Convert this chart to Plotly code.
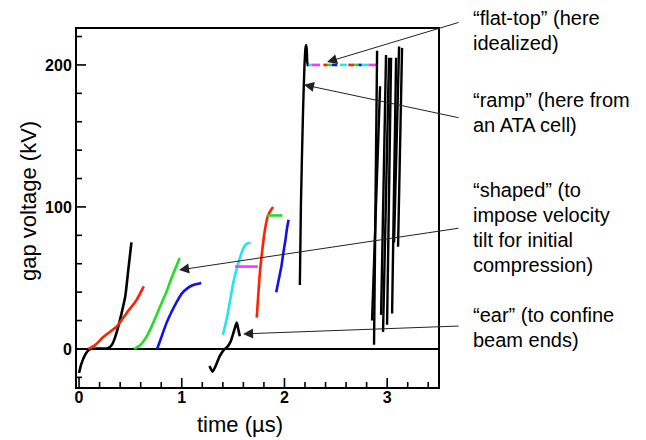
import plotly.graph_objects as go

# ---- data (time in µs, gap voltage in kV) ----
black1_t = [0.0, 0.02, 0.06, 0.09, 0.11, 0.2, 0.28, 0.32, 0.35, 0.39, 0.42, 0.45, 0.48, 0.51]
black1_v = [-17, -11, -4, -1, 0, 0.3, 0.5, 3, 8, 18, 27, 37, 56, 75]

red1_t = [0.09, 0.16, 0.23, 0.30, 0.37, 0.46, 0.56, 0.63]
red1_v = [0, 3, 8, 12, 16, 25, 34.5, 44]

green1_t = [0.535, 0.60, 0.66, 0.72, 0.79, 0.85, 0.89, 0.94, 0.98]
green1_v = [0, 3, 9, 18, 30, 40, 48, 57, 64]

blue1_t = [0.76, 0.80, 0.85, 0.90, 0.95, 1.00, 1.06, 1.11, 1.19]
blue1_v = [0, 8, 18, 26, 33, 39, 43, 45, 46.5]

ear_t = [1.27, 1.30, 1.33, 1.37, 1.41, 1.45, 1.48, 1.51, 1.535, 1.55, 1.565]
ear_v = [-12, -16, -12, -5, -0.7, 2, 6, 13, 18.5, 14, 9]

cyan_t = [1.40, 1.44, 1.47, 1.50, 1.54, 1.57, 1.60, 1.63, 1.67]
cyan_v = [10, 22, 34, 46, 58, 65, 71, 74, 75]

magenta_flat_t = [1.52, 1.74]
magenta_flat_v = [58, 58]

red2_t = [1.73, 1.745, 1.76, 1.78, 1.80, 1.82, 1.84, 1.87, 1.89]
red2_v = [22, 38, 53, 67, 79, 88, 94, 98, 100]

green_flat_t = [1.83, 1.98]
green_flat_v = [94, 94]

blue2_t = [1.92, 1.945, 1.97, 1.99, 2.01, 2.025, 2.04]
blue2_v = [40, 49, 58, 68, 77, 85, 91]

ramp_t = [2.15, 2.16, 2.18, 2.195, 2.205, 2.212, 2.218, 2.222, 2.23]
ramp_v = [45, 100, 165, 200, 212, 214, 210, 202, 199]

flat_top_v = 200
flat_start = [2.233, 2.266, 2.379, 2.422, 2.461, 2.541, 2.622, 2.678, 2.720, 2.753, 2.817]
flat_end = [2.266, 2.347, 2.422, 2.461, 2.515, 2.607, 2.678, 2.720, 2.753, 2.817, 2.899]
flat_colors = ["#22e5f0", "#ff33ff", "#ff2200", "#22dd22", "#1111ee", "#22e5f0",
               "#ff2200", "#22dd22", "#1111ee", "#22e5f0", "#ff33ff"]

spike_t0 = [2.872, 2.853, 2.941, 2.960, 2.999, 3.048, 3.067, 3.106]
spike_v0 = [3, 20, 24, 12, 17, 25, 75, 72]
spike_t1 = [2.902, 2.931, 2.989, 3.018, 3.038, 3.087, 3.116, 3.145]
spike_v1 = [210, 185, 207, 205, 205, 205, 213, 212]

x_major_ticks = [0, 1, 2, 3]
x_minor_ticks = [0.2, 0.4, 0.6, 0.8, 1.2, 1.4, 1.6, 1.8, 2.2, 2.4, 2.6, 2.8, 3.2, 3.4]
y_major_ticks = [0, 100, 200]
y_minor_ticks = [-20, 20, 40, 60, 80, 120, 140, 160, 180, 220]

notes = [
    ["“flat-top” (here", "idealized)"],
    ["“ramp” (here from", "an ATA cell)"],
    ["“shaped” (to", "impose velocity", "tilt for initial", "compression)"],
    ["“ear” (to confine", "beam ends)"],
]
note_top_px = [18, 100, 190, 315]
arrow_head_t = [2.415, 2.19, 0.974, 1.597]
arrow_head_v = [202, 186, 55.6, 10.6]
arrow_tail_px = [(460, 22), (460, 118), (460, 228), (460, 326)]

# ---- figure ----
W, H = 646, 440
L, R, T, B = 77, 208, 29, 53
xr = [-0.02, 3.495]
yr = [-26.8, 225.3]
pw, ph = W - L - R, H - T - B
x_per_px = (xr[1] - xr[0]) / pw
y_per_px = (yr[1] - yr[0]) / ph

def px_x(t):
    return L + (t - xr[0]) / (xr[1] - xr[0]) * pw

def px_y(v):
    return T + (yr[1] - v) / (yr[1] - yr[0]) * ph

fig = go.Figure()
lw = 2.6

def add(t, v, color, width=lw):
    fig.add_trace(go.Scatter(x=t, y=v, mode="lines",
                             line=dict(color=color, width=width, shape="spline", smoothing=0.6),
                             hoverinfo="skip", showlegend=False))

# inside tick marks on bottom and left axes (drawn as a line trace)
tx, ty = [], []
for vals, ln in ((x_major_ticks, 9), (x_minor_ticks, 5)):
    for t in vals:
        tx += [t, t, None]
        ty += [yr[0], yr[0] + ln * y_per_px, None]
for vals, ln in ((y_major_ticks, 9), (y_minor_ticks, 5)):
    for v in vals:
        tx += [xr[0], xr[0] + ln * x_per_px, None]
        ty += [v, v, None]
fig.add_trace(go.Scatter(x=tx, y=ty, mode="lines", line=dict(color="black", width=1.6),
                         hoverinfo="skip", showlegend=False, cliponaxis=False))

add(black1_t, black1_v, "black")
add(red1_t, red1_v, "#ff2200")
add(green1_t, green1_v, "#22dd22")
add(blue1_t, blue1_v, "#1111ee")
add(ear_t, ear_v, "black")
add(cyan_t, cyan_v, "#22e5f0")
add(magenta_flat_t, magenta_flat_v, "#ff33ff")
add(red2_t, red2_v, "#ff2200")
add(green_flat_t, green_flat_v, "#22dd22")
add(blue2_t, blue2_v, "#1111ee")
add(ramp_t, ramp_v, "black", 2.4)

for s, e, c in zip(flat_start, flat_end, flat_colors):
    fig.add_trace(go.Scatter(x=[s, e], y=[flat_top_v, flat_top_v], mode="lines",
                             line=dict(color=c, width=2.6), hoverinfo="skip", showlegend=False))

sx, sy = [], []
for a, b, c, d in zip(spike_t0, spike_v0, spike_t1, spike_v1):
    sx += [a, c, None]
    sy += [b, d, None]
fig.add_trace(go.Scatter(x=sx, y=sy, mode="lines", line=dict(color="black", width=2.4),
                         hoverinfo="skip", showlegend=False))

ann = []
font_t = dict(family="Liberation Sans, Arial, sans-serif", size=20, color="black")
for lines, top in zip(notes, note_top_px):
    for i, ln in enumerate(lines):
        yc = top + i * 25
        ann.append(dict(text=ln, xref="paper", yref="paper",
                        x=(471 - L) / pw, y=(H - B - yc) / ph,
                        xanchor="left", yanchor="middle", showarrow=False, font=font_t))

for t, v, (ax_, ay_) in zip(arrow_head_t, arrow_head_v, arrow_tail_px):
    hx, hy = px_x(t), px_y(v)
    ann.append(dict(x=t, y=v, xref="x", yref="y", text="", showarrow=True,
                    axref="pixel", ayref="pixel", ax=ax_ - hx, ay=ay_ - hy,
                    arrowhead=2, arrowsize=2.0, arrowwidth=1, arrowcolor="#222222",
                    standoff=0))

ann.append(dict(text="time (µs)", xref="paper", yref="paper",
                x=(240 - L) / pw, y=(H - B - 424) / ph, xanchor="center", yanchor="middle",
                showarrow=False, font=dict(family="Liberation Sans, Arial, sans-serif", size=22, color="black")))
ann.append(dict(text="gap voltage (kV)", xref="paper", yref="paper",
                x=(28 - L) / pw, y=(H - B - 201) / ph, xanchor="center", yanchor="middle",
                textangle=-90, showarrow=False,
                font=dict(family="Liberation Sans, Arial, sans-serif", size=22, color="black")))

tick_font = dict(family="Liberation Sans, Arial, sans-serif", size=16, color="black", weight="bold")

fig.update_layout(
    width=W, height=H,
    margin=dict(l=L, r=R, t=T, b=B),
    paper_bgcolor="white", plot_bgcolor="white",
    annotations=ann,
    xaxis=dict(range=xr, tickmode="array", tickvals=x_major_ticks,
               ticktext=[str(v) for v in x_major_ticks],
               showline=True, linecolor="black", linewidth=2, mirror=True, showgrid=False,
               ticks="", tickfont=tick_font, zeroline=False, ticklabelstandoff=-5),
    yaxis=dict(range=yr, tickmode="array", tickvals=y_major_ticks,
               ticktext=[str(v) for v in y_major_ticks],
               showline=True, linecolor="black", linewidth=2, mirror=True, showgrid=False,
               ticks="", tickfont=tick_font,
               zeroline=True, zerolinecolor="black", zerolinewidth=2),
)

fig.write_html("out.html")
